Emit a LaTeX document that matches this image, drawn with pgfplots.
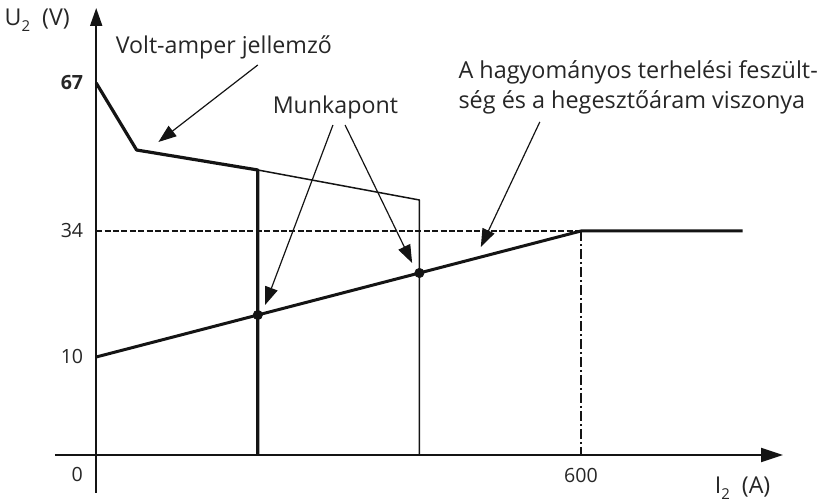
\documentclass[border=0pt]{standalone}
\usepackage{pgfplots}
\pgfplotsset{compat=1.18}
\usepackage{fontspec}
\setmainfont{Open Sans}
\usetikzlibrary{arrows.meta}
\definecolor{ink}{HTML}{141414}
\definecolor{txt}{HTML}{262626}
\newcommand{\sub}[1]{\raisebox{-0.45ex}{\fontsize{7.5bp}{8bp}\selectfont #1}}
\begin{document}
\begin{tikzpicture}
\begin{axis}[
  scale only axis,
  width=364bp, height=242.5bp,
  xmin=-51, xmax=850, ymin=-38, ymax=447,
  axis lines=middle,
  enlargelimits=false,
  clip=false,
  axis line style={ink, line width=1bp},
  x axis line style={-{Triangle[length=11bp,width=7bp]}},
  y axis line style={-{Triangle[length=9bp,width=6bp]}},
  xtick={600}, xticklabels={600},
  ytick={98,224,372}, yticklabels={10,34,\textbf{67}},
  major tick length=0pt,
  tick label style={font=\fontsize{9.8bp}{11bp}\selectfont, text=txt},
  xticklabel style={yshift=-3bp},
  yticklabel style={xshift=-3bp},
  /pgf/number format/assume math mode=true,
]
% load line (terhelesi feszultseg)
\addplot[ink, line width=1.5bp] coordinates {(0,98) (600,224) (800,224)};
% dashed 34 V line
\addplot[ink, line width=1.3bp, dash pattern=on 3bp off 1.2bp] coordinates {(0,224) (600,224)};
% dash-dot vertical at 600 A
\addplot[ink, line width=0.9bp, dash pattern=on 5bp off 1.5bp on 1bp off 1.5bp] coordinates {(600,224) (600,0)};
% volt-amper characteristic, thick (200 A)
\addplot[ink, line width=1.6bp, line join=round] coordinates {(0,372) (50,305) (200,285) (200,0)};
% volt-amper characteristic, thin (400 A)
\addplot[ink, line width=0.75bp, line join=round] coordinates {(200,285) (400,255) (400,0)};
% working points
\addplot[only marks, mark=*, mark size=2.3bp, ink] coordinates {(200,140) (400,182)};
% annotations
\node[font=\fontsize{11.6bp}{14bp}\selectfont, text=txt] at (axis cs:158,408) {Volt-amper jellemző};
\draw[ink, line width=0.6bp, -{Triangle[length=9bp,width=6.5bp]}] (axis cs:200,390) -- (axis cs:77,313);
\node[font=\fontsize{11.6bp}{14bp}\selectfont, text=txt] at (axis cs:296,348) {Munkapont};
\draw[ink, line width=0.6bp, -{Triangle[length=9bp,width=6.5bp]}] (axis cs:293,330) -- (axis cs:209,150);
\draw[ink, line width=0.6bp, -{Triangle[length=9bp,width=6.5bp]}] (axis cs:308,330) -- (axis cs:391,192);
\node[font=\fontsize{11.7bp}{15bp}\selectfont, text=txt, anchor=west, align=left, inner sep=0pt] at (axis cs:448,368) {A hagyományos terhelési feszült-\\ség és a hegesztőáram viszonya};
\draw[ink, line width=0.6bp, -{Triangle[length=9bp,width=6.5bp]}] (axis cs:549,333) -- (axis cs:476,208);
% axis labels
\node[font=\fontsize{11.6bp}{14bp}\selectfont, text=txt] at (axis cs:-73,435) {U\sub{2}~~(V)};
\node[font=\fontsize{11.6bp}{14bp}\selectfont, text=txt] at (axis cs:800,-33) {I\sub{2}~~(A)};
\node[font=\fontsize{9.8bp}{11bp}\selectfont, text=txt] at (axis cs:-23.5,-20) {0};
\end{axis}
\pgfresetboundingbox
\path[use as bounding box] ([shift={(-27.5bp,-4bp)}]current axis.south west) rectangle ([shift={(22bp,4bp)}]current axis.north east);
\end{tikzpicture}
\end{document}
